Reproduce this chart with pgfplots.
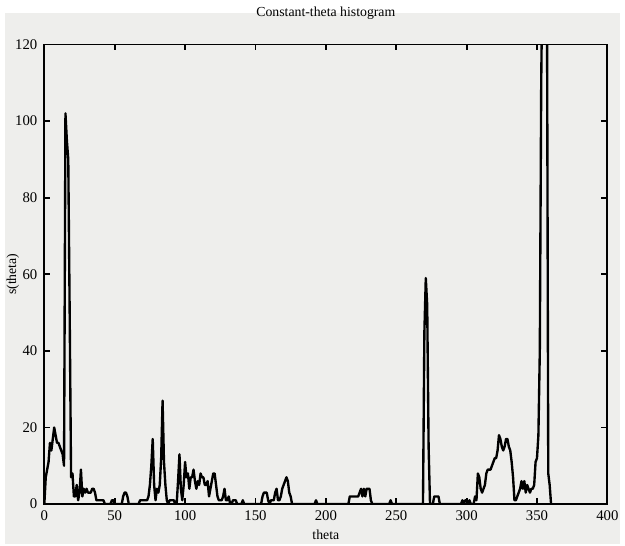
\documentclass[border=0pt]{standalone}
\usepackage{pgfplots}
\pgfplotsset{compat=1.18}
\usepackage{fontspec}
\setmainfont{Liberation Serif}
\usetikzlibrary{backgrounds}
\definecolor{paper}{RGB}{238,238,236}

\begin{document}
\begin{tikzpicture}
\begin{axis}[
  name=ax,
  scale only axis,
  width=286pt,
  height=233.5pt,
  xmin=0, xmax=400,
  ymin=0, ymax=120,
  xtick={0,50,...,400},
  ytick={0,20,...,120},
  axis line style={line width=0.9pt},
  every tick/.style={black,line width=0.9pt},
  major tick length=3pt,
  ticklabel style={font=\fontsize{7.5}{9}\selectfont},
  /pgf/number format/assume math mode=true,
  title={Constant-theta histogram},
  title style={font=\fontsize{7}{8}\selectfont, at={(axis description cs:0.5,1.043)}, anchor=center},
  xlabel={theta},
  xlabel style={font=\fontsize{7}{8}\selectfont, at={(axis description cs:0.5,-0.066)}, anchor=center},
  ylabel={s(theta)},
  ylabel style={font=\fontsize{7}{8}\selectfont, at={(axis description cs:-0.056,0.5)}, anchor=center},
]
\addplot[black, line width=1.2pt, line join=round] coordinates {
  (0,0) (1,7) (2,9) (3,11) (4,16) (5,14) (6,17) (7,20) (8,18) (9,16)
  (10,16) (11,15) (12,14) (13,13) (14,10) (15,102) (16,95) (17,90) (18,50) (19,7)
  (20,8) (21,2) (22,2) (23,5) (24,1) (25,3) (26,9) (27,2) (28,4) (29,3)
  (30,4) (31,3) (32,3) (33,3) (34,4) (35,4) (36,3) (37,1) (38,1) (39,1)
  (40,1) (41,1) (42,1) (43,0) (44,0) (45,0) (46,0) (47,0) (48,1) (49,1)
  (50,0) (51,0) (52,0) (53,0) (54,0) (55,0) (56,2) (57,3) (58,3) (59,2)
  (60,0) (61,0) (62,0) (63,0) (64,0) (65,0) (66,0) (67,0) (68,1) (69,1)
  (70,1) (71,1) (72,1) (73,1) (74,2) (75,5) (76,10) (77,17) (78,5) (79,1)
  (80,4) (81,3) (82,5) (83,12) (84,27) (85,11) (86,5) (87,1) (88,0) (89,1)
  (90,1) (91,1) (92,1) (93,0) (94,0) (95,6) (96,13) (97,4) (98,1) (99,5)
  (100,11) (101,7) (102,8) (103,4) (104,7) (105,7) (106,9) (107,6) (108,4) (109,6)
  (110,5) (111,8) (112,7) (113,7) (114,5) (115,5) (116,6) (117,2) (118,4) (119,6)
  (120,8) (121,8) (122,5) (123,2) (124,1) (125,1) (126,1) (127,2) (128,4) (129,1)
  (130,1) (131,2) (132,0) (133,0) (134,1) (135,1) (136,1) (137,0) (138,0) (139,0)
  (140,0) (141,1) (142,0) (143,0) (144,0) (145,0) (146,0) (147,0) (148,0) (149,0)
  (150,0) (151,0) (152,0) (153,0) (154,0) (155,2) (156,3) (157,3) (158,3) (159,1)
  (160,0) (161,1) (162,1) (163,1) (164,3) (165,4) (166,1) (167,1) (168,2) (169,4)
  (170,5) (171,6) (172,7) (173,6) (174,3) (175,2) (176,0) (177,0) (178,0) (179,0)
  (180,0) (181,0) (182,0) (183,0) (184,0) (185,0) (186,0) (187,0) (188,0) (189,0)
  (190,0) (191,0) (192,0) (193,1) (194,0) (195,0) (196,0) (197,0) (198,0) (199,0)
  (200,0) (201,0) (202,0) (203,0) (204,0) (205,0) (206,0) (207,0) (208,0) (209,0)
  (210,0) (211,0) (212,0) (213,0) (214,0) (215,0) (216,0) (217,2) (218,2) (219,2)
  (220,2) (221,2) (222,2) (223,2) (224,3) (225,4) (226,2) (227,4) (228,2) (229,4)
  (230,4) (231,4) (232,1) (233,0) (234,0) (235,0) (236,0) (237,0) (238,0) (239,0)
  (240,0) (241,0) (242,0) (243,0) (244,0) (245,0) (246,1) (247,0) (248,0) (249,0)
  (250,0) (251,0) (252,0) (253,0) (254,0) (255,0) (256,0) (257,0) (258,0) (259,0)
  (260,0) (261,0) (262,0) (263,0) (264,0) (265,0) (266,0) (267,0) (268,0) (269,0)
  (270,45) (271,59) (272,52) (273,15) (274,0) (275,0) (276,0) (277,2) (278,2) (279,2)
  (280,2) (281,0) (282,0) (283,0) (284,0) (285,0) (286,0) (287,0) (288,0) (289,0)
  (290,0) (291,0) (292,0) (293,0) (294,0) (295,0) (296,0) (297,1) (298,0) (299,1)
  (300,1) (301,0) (302,1) (303,0) (304,0) (305,0) (306,2) (307,1) (308,8) (309,7)
  (310,4) (311,3) (312,4) (313,5) (314,8) (315,9) (316,9) (317,9) (318,10) (319,11)
  (320,12) (321,12) (322,14) (323,18) (324,17) (325,15) (326,14) (327,15) (328,17) (329,17)
  (330,15) (331,14) (332,11) (333,7) (334,1) (335,1) (336,2) (337,3) (338,4) (339,6)
  (340,4) (341,6) (342,3) (343,5) (344,4) (345,3) (346,4) (347,4) (348,5) (349,11)
  (350,12) (351,18) (352,40) (353,110) (354,145) (355,145) (356,145) (357,145) (358,8) (359,5)
  (360,0)
};
\end{axis}
\begin{scope}[on background layer]
  \fill[paper] ([shift={(-20pt,-20.5pt)}]ax.south west) rectangle ([shift={(6.5pt,16pt)}]ax.north east);
\end{scope}
\end{tikzpicture}
\end{document}
